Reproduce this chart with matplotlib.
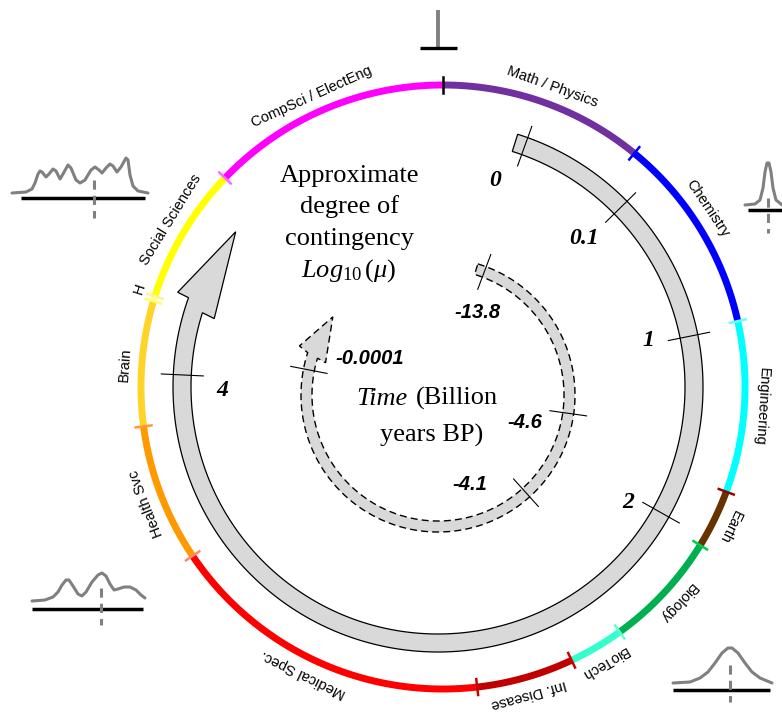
import numpy as np
import matplotlib.pyplot as plt
from matplotlib.patches import Polygon

plt.rcParams['font.family'] = ['Liberation Sans', 'DejaVu Sans']
plt.rcParams['mathtext.fontset'] = 'custom'
plt.rcParams['mathtext.rm'] = 'Liberation Serif'
plt.rcParams['mathtext.it'] = 'Liberation Serif:italic'

# outer ring: fields, clockwise from the top (angles in degrees, 0 = right)
segment_names = ["Math / Physics", "Chemistry", "Engineering", "Earth", "Biology", "BioTech",
                 "Inf. Disease", "Medical Spec.", "Health Svc", "Brain", "H",
                 "Social Sciences", "CompSci / ElectEng"]
segment_bounds = [90, 50.7, 12.6, -20.3, -31.6, -54.2, -64.8, -83.5, -146, -172.5,
                  -196.5, -197.5, -223.8, -270]
segment_colors = ["#7030A0", "#0000FF", "#00FFFF", "#663300", "#00B050", "#33FFCC",
                  "#C00000", "#FF0000", "#FF9900", "#FFD42A", "#FFFF99", "#FFFF00", "#FF00FF"]
tick_colors = ["black", "#0000FF", "#66FFEE", "#990000", "#00CC44", "#66FFCC", "#CC0000",
               "#CC0000", "#FF8866", "#FF9933", "#FFFF66", "#FFF099", "#FF66FF"]
label_angles = [70, 34, -3.5, -26, -42.6, -59.7, -74.4, -116, -158.6, -184, -198, -211.6, -245.7]

# time ticks on the two spirals
outer_labels = ["0", "0.1", "1", "2", "4"]
outer_angles = [70.2, 44.5, 11.4, -29.4, -182.7]
inner_labels = ["-13.8", "-4.6", "-4.1", "-0.0001"]
inner_angles = [69.4, -8, -48, -191]

# small distribution sketches (pixel coords)
tl_x = [12, 26, 32, 35, 38, 40, 42, 46, 49, 53, 56, 60, 63, 68, 71, 76, 80, 85, 91, 95, 99, 102,
        106, 110, 113, 117, 121, 126, 128, 130, 133, 138, 148]
tl_y = [193, 192, 189, 183, 174, 171, 172, 177, 174, 169, 171, 179, 174, 165, 168, 180, 183, 180,
        170, 167, 170, 173, 168, 164, 166, 172, 167, 158, 160, 175, 186, 191, 193]
tr_x = [745, 755, 760, 763, 765, 767, 769, 771, 773, 776, 781, 782]
tr_y = [205, 204, 200, 188, 172, 163, 163, 172, 188, 200, 204, 205]
bl_x = [32, 45, 53, 58, 62, 66, 69, 73, 78, 82, 86, 92, 98, 102, 106, 110, 114, 118, 124, 130,
        136, 141, 145]
bl_y = [601, 600, 597, 592, 585, 580, 580, 586, 594, 596, 592, 582, 575, 573, 576, 584, 590,
        589, 587, 587, 590, 595, 598]
br_x = [673, 690, 700, 708, 715, 722, 728, 732, 738, 745, 752, 760, 772]
br_y = [683, 682, 678, 672, 663, 653, 648, 648, 653, 663, 672, 678, 683]

RING_C, RING_R = (443, 387), 302
BAND_C = (438, 387)
INNER_C = (438, 395)


def pt(c, r, a):
    a = np.radians(a)
    return c[0] + r * np.cos(a), c[1] - r * np.sin(a)


fig = plt.figure(figsize=(7.82, 7.12), dpi=100)
ax = fig.add_axes([0, 0, 1, 1])
ax.set_xlim(0, 782)
ax.set_ylim(712, 0)
ax.axis("off")

# coloured outer ring
for i, name in enumerate(segment_names):
    a = np.linspace(segment_bounds[i], segment_bounds[i + 1], 120)
    x, y = pt(RING_C, RING_R, a)
    ax.plot(x, y, color=segment_colors[i], lw=5, solid_capstyle="butt", zorder=2)
for i, a in enumerate(segment_bounds[:-1]):
    x, y = pt(RING_C, np.array([RING_R - 8, RING_R + 8]), a)
    ax.plot(x, y, color=tick_colors[i], lw=1.8, zorder=3)
for name, a in zip(segment_names, label_angles):
    x, y = pt(RING_C, 319, a)
    ax.text(x, y, name, rotation=a - 90, rotation_mode="anchor", ha="center", va="center",
            fontsize=10.5)


def spiral(c, r_in, r_out, a0, a_out, a_in, head):
    xo, yo = pt(c, r_out, np.linspace(a0, a_out, 300))
    xi, yi = pt(c, r_in, np.linspace(a_in, a0, 300))
    hx, hy = zip(*[pt(c, r, a) for a, r in head])
    return np.column_stack([np.concatenate([xo, hx, xi]), np.concatenate([yo, hy, yi])])


# big grey arrow (contingency)
big = spiral(BAND_C, 247, 265, 72.5, -199.7, -197.5, [(-200, 277), (-217.5, 255), (-197, 234)])
ax.add_patch(Polygon(big, closed=True, fc="#D9D9D9", ec="black", lw=0.9, zorder=1))
for lab, a in zip(outer_labels, outer_angles):
    x, y = pt(BAND_C, np.array([235, 277]), a)
    ax.plot(x, y, color="black", lw=0.8, zorder=2)

# dashed inner arrow (time)
small = spiral(INNER_C, 126, 137, 73.1, -198, -197, [(-199.5, 147), (-216.6, 131), (-196, 117)])
ax.add_patch(Polygon(small, closed=True, fc="#D9D9D9", ec="none", zorder=1))
ax.add_patch(Polygon(small, closed=True, fill=False, ec="black", lw=1.0,
                     linestyle=(0, (5, 3)), zorder=2))
for lab, a in zip(inner_labels, inner_angles):
    x, y = pt(INNER_C, np.array([113, 150]), a)
    ax.plot(x, y, color="black", lw=0.8, zorder=2)

# tick labels
outer_xy = [(495, 180), (584, 238), (648, 340), (628, 502), (222, 390)]
for lab, (x, y) in zip(outer_labels, outer_xy):
    ax.text(x, y, lab, ha="center", va="center", fontsize=17, family="Liberation Serif",
            fontweight="bold", fontstyle="italic")
inner_xy = [(478, 312), (525, 423), (470, 485), (370, 358)]
for lab, (x, y) in zip(inner_labels, inner_xy):
    ax.text(x, y, lab, ha="center", va="center", fontsize=14.5, fontweight="bold",
            fontstyle="italic")

# centre texts
serif = dict(ha="center", va="baseline", fontsize=19, family="Liberation Serif")
ax.text(349, 182, "Approximate", **serif)
ax.text(349, 213, "degree of", **serif)
ax.text(349, 245, "contingency", **serif)
ax.text(349, 277, r"$Log_{\mathit{10}}\,(\mu)$", ha="center", va="baseline", fontsize=19)
ax.text(408, 405, "Time", ha="right", va="baseline", fontsize=19, family="Liberation Serif",
        fontstyle="italic")
ax.text(416, 405, "(Billion", ha="left", va="baseline", fontsize=19, family="Liberation Serif")
ax.text(432, 442, "years BP)", **serif)

# distribution sketches
grey = "#808080"
ax.plot([438, 438], [10, 47], color=grey, lw=2.8, solid_capstyle="butt")
ax.plot([420, 457], [48, 48], color="black", lw=2.4, solid_capstyle="butt")
for cx_, cy_, bx, by, dx0, dy0, dy1 in [
        (tl_x, tl_y, (21, 145), 198, 94, 180, 218),
        (tr_x, tr_y, (748, 782), 210, 768, 198, 233),
        (bl_x, bl_y, (32, 143), 609, 101, 588, 625),
        (br_x, br_y, (673, 770), 690, 730, 665, 702)]:
    ax.plot(cx_, cy_, color=grey, lw=2.2, solid_joinstyle="round", solid_capstyle="round")
    ax.plot(bx, [by, by], color="black", lw=2.5, solid_capstyle="butt")
    ax.plot([dx0, dx0], [dy0, dy1], color=grey, lw=2.2, linestyle=(0, (3, 2)))

fig.savefig("out.png", dpi=100)
